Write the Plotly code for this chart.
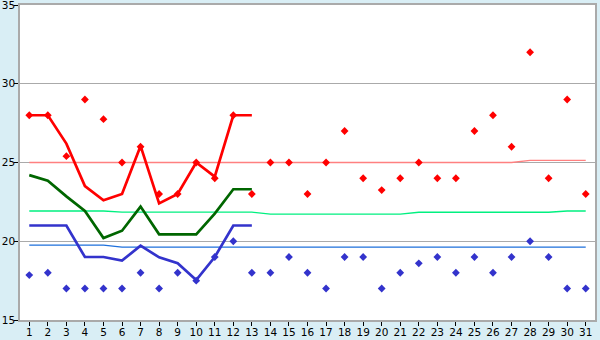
import plotly.graph_objects as go

days = list(range(1, 32))

# daily observed maxima / minima (scatter diamonds)
obs_max = [28, 28, 25.4, 29, 27.75, 25, 26, 23, 23, 25, 24, 28, 23, 25, 25, 23,
           25, 27, 24, 23.25, 24, 25, 24, 24, 27, 28, 26, 32, 24, 29, 23]
obs_min = [17.85, 18, 17, 17, 17, 17, 18, 17, 18, 17.5, 19, 20, 18, 18, 19, 18,
           17, 19, 19, 17, 18, 18.6, 19, 18, 19, 18, 19, 20, 19, 17, 17]

# thick lines (days 1-13)
line_days = list(range(1, 14))
line_max = [28, 28, 26.2, 23.5, 22.6, 23.0, 26.05, 22.4, 23.0, 25.0, 24.1, 28, 28]
line_mean = [24.2, 23.85, 22.85, 21.92, 20.2, 20.67, 22.2, 20.44, 20.44, 20.44, 21.75, 23.3, 23.3]
line_min = [21, 21, 21, 19, 19, 18.77, 19.72, 18.98, 18.6, 17.54, 19, 21, 21]

# thin reference lines for the whole month
ref_max = [25.0] * 27 + [25.13] * 4
ref_mean = [21.92] * 5 + [21.85] * 8 + [21.72] * 8 + [21.84] * 8 + [21.92] * 2
ref_min = [19.76] * 5 + [19.63] * 26

fig = go.Figure()

fig.add_trace(go.Scatter(x=days, y=ref_max, mode="lines",
                         line=dict(color="#FF8080", width=1.3)))
fig.add_trace(go.Scatter(x=days, y=ref_mean, mode="lines",
                         line=dict(color="#00F080", width=1.3)))
fig.add_trace(go.Scatter(x=days, y=ref_min, mode="lines",
                         line=dict(color="#1E70DC", width=1.3)))

fig.add_trace(go.Scatter(x=line_days, y=line_max, mode="lines",
                         line=dict(color="#FF0000", width=2.7)))
fig.add_trace(go.Scatter(x=line_days, y=line_mean, mode="lines",
                         line=dict(color="#006600", width=2.7)))
fig.add_trace(go.Scatter(x=line_days, y=line_min, mode="lines",
                         line=dict(color="#3333CC", width=2.7)))

fig.add_trace(go.Scatter(x=days, y=obs_max, mode="markers",
                         marker=dict(symbol="diamond", size=6, color="#FF0000")))
fig.add_trace(go.Scatter(x=days, y=obs_min, mode="markers",
                         marker=dict(symbol="diamond", size=6, color="#3333CC")))

fig.update_layout(
    width=600, height=340,
    margin=dict(l=20, r=5, t=5, b=20, autoexpand=False),
    paper_bgcolor="#D9EEF5",
    plot_bgcolor="#FFFFFF",
    showlegend=False,
    font=dict(family="DejaVu Sans", size=10.5, color="#000000"),
    xaxis=dict(range=[0.5, 31.5], tickvals=days, ticktext=[str(d) for d in days],
               ticks="outside", ticklen=4, tickcolor="#000000", automargin=False,
               ticklabeloverflow="allow", ticklabelstandoff=-2,
               showgrid=False, zeroline=False,
               showline=True, linecolor="#AAAAAA", linewidth=1.5, mirror=True),
    yaxis=dict(range=[15, 35], tickvals=[15, 20, 25, 30, 35], automargin=False,
               ticklabeloverflow="allow", ticklabelstandoff=-3,
               ticks="outside", ticklen=4, tickcolor="#000000",
               showgrid=True, gridcolor="#AAAAAA", gridwidth=1, zeroline=False,
               showline=True, linecolor="#AAAAAA", linewidth=1.5, mirror=True),
)

fig.write_html("out.html")
